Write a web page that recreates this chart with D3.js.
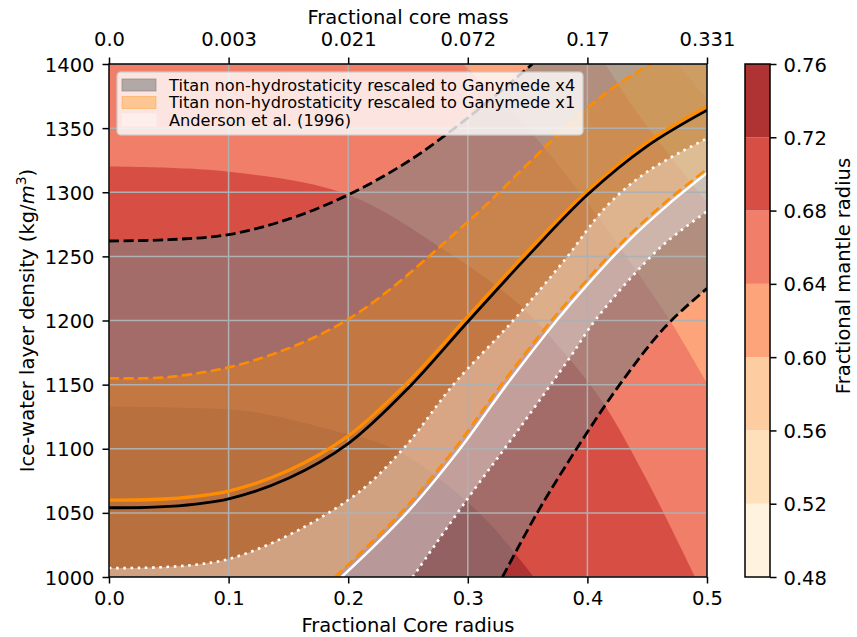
<!DOCTYPE html>
<html>
<head>
<meta charset="utf-8">
<script src="https://cdn.jsdelivr.net/npm/d3@7"></script>
<style>
body { margin: 0; background: #fff; }
svg { font-family: "DejaVu Sans", sans-serif; }
</style>
</head>
<body>
<main></main>
<script>
// axes
var xTicks = [0, 0.1, 0.2, 0.3, 0.4, 0.5];
var yTicks = [1000, 1050, 1100, 1150, 1200, 1250, 1300, 1350, 1400];
var massLabels = ['0.0', '0.003', '0.021', '0.072', '0.17', '0.331'];

// colour levels of the mantle radius field
var levels = [0.48, 0.52, 0.56, 0.60, 0.64, 0.68, 0.72, 0.76];
var levelColors = ['#fff2df', '#fee1bb', '#fdcca0', '#fda47a', '#f07e68', '#d74e45', '#b03333'];

// contour boundaries [core radius, density]
var mantle056 = [[0.475, 1400], [0.5, 1373]];
var mantle060 = [[0.415, 1400], [0.441, 1363], [0.5, 1292]];
var mantle064 = [[0.296, 1400], [0.35, 1350], [0.4, 1292], [0.44, 1240], [0.469, 1200], [0.5, 1151]];
var mantle068 = [[0, 1320], [0.1, 1316], [0.2, 1298], [0.277, 1257], [0.341, 1214], [0.385, 1170], [0.413, 1136], [0.45, 1075], [0.49, 1000]];
var mantle072 = [[0, 1133], [0.06, 1132], [0.118, 1129], [0.18, 1116], [0.238, 1100], [0.285, 1070], [0.32, 1040], [0.355, 1000]];

// Titan x4 (black)
var x4Mid = [[0, 1054], [0.05, 1055], [0.1, 1061], [0.15, 1077], [0.2, 1104], [0.25, 1147], [0.3, 1199], [0.35, 1250], [0.4, 1298], [0.45, 1336], [0.5, 1364]];
var x4Upper = [[0, 1262], [0.05, 1263], [0.1, 1267], [0.15, 1279], [0.2, 1298], [0.25, 1324], [0.3, 1358], [0.354, 1400]];
var x4Lower = [[0.329, 1000], [0.358, 1050], [0.391, 1100], [0.427, 1150], [0.465, 1195], [0.5, 1225]];

// Titan x1 (orange)
var x1Mid = [[0, 1060], [0.05, 1061], [0.1, 1067], [0.15, 1083], [0.2, 1110], [0.25, 1152], [0.3, 1203], [0.35, 1254], [0.4, 1301], [0.45, 1339], [0.5, 1367]];
var x1Upper = [[0, 1155], [0.05, 1156], [0.118, 1168], [0.2, 1201], [0.3, 1277], [0.35, 1322], [0.394, 1361], [0.422, 1382], [0.453, 1400]];
var x1Lower = [[0.189, 1000], [0.244, 1050], [0.289, 1100], [0.328, 1150], [0.37, 1200], [0.397, 1229], [0.43, 1262], [0.465, 1292], [0.5, 1318]];

// Anderson et al. (1996) (white)
var andMid = [[0.1945, 1000], [0.249, 1050], [0.2935, 1100], [0.3325, 1150], [0.3743, 1200], [0.4, 1228], [0.433, 1261], [0.467, 1290], [0.5, 1315]];
var andUpper = [[0, 1007], [0.1, 1014], [0.2, 1060], [0.246, 1100], [0.288, 1150], [0.338, 1200], [0.38, 1246], [0.416, 1289], [0.45, 1316], [0.5, 1342]];
var andLower = [[0.254, 1000], [0.299, 1060], [0.344, 1117], [0.386, 1172], [0.408, 1202], [0.461, 1257], [0.5, 1285]];

var legendNames = [
  'Titan non-hydrostaticity rescaled to Ganymede x4',
  'Titan non-hydrostaticity rescaled to Ganymede x1',
  'Anderson et al. (1996)'
];

var svg = d3.select("main").append("svg")
  .attr("width", 857)
  .attr("height", 637);

var x = d3.scaleLinear().domain([0, 0.5]).range([109, 707]);
var y = d3.scaleLinear().domain([1000, 1400]).range([577, 64]);
var cbar = d3.scaleLinear().domain([0.48, 0.76]).range([577, 64]);

var line = d3.line()
  .x(function(d) { return x(d[0]); })
  .y(function(d) { return y(d[1]); })
  .curve(d3.curveCatmullRom.alpha(0.5));

function pt(d) { return 'L' + x(d[0]) + ',' + y(d[1]); }

// region of the field above a level: the boundary closed round the lower left corner
function regionPath(pts) {
  var first = pts[0], last = pts[pts.length - 1];
  var p = line(pts);
  if (last[0] >= 0.5) p += pt([0.5, 1000]);
  p += pt([0, 1000]);
  if (first[0] > 0) p += pt([0, 1400]);
  return p + 'Z';
}

function bandPath(upper, lower) {
  var p = line(upper);
  if (upper[upper.length - 1][1] >= 1400) p += pt([0.5, 1400]);
  p += line(lower.slice().reverse()).replace(/^M/, 'L');
  if (lower[0][1] <= 1000) p += pt([0, 1000]);
  return p + 'Z';
}

svg.append("clipPath").attr("id", "plotclip")
  .append("rect")
  .attr("x", x(0)).attr("y", y(1400))
  .attr("width", x(0.5) - x(0)).attr("height", y(1000) - y(1400));

var plot = svg.append("g").attr("clip-path", "url(#plotclip)");

// filled contours
plot.append("rect")
  .attr("x", x(0)).attr("y", y(1400))
  .attr("width", x(0.5) - x(0)).attr("height", y(1000) - y(1400))
  .attr("fill", levelColors[1]);

var regions = [mantle056, mantle060, mantle064, mantle068, mantle072];
plot.selectAll("path.region")
  .data(regions)
  .enter().append("path")
  .attr("class", "region")
  .attr("d", regionPath)
  .attr("fill", function(d, i) { return levelColors[i + 2]; });

// uncertainty bands
plot.append("path").attr("d", bandPath(x4Upper, x4Lower))
  .attr("fill", "gray").attr("fill-opacity", 0.6);
plot.append("path").attr("d", bandPath(x1Upper, x1Lower))
  .attr("fill", "darkorange").attr("fill-opacity", 0.35);
plot.append("path").attr("d", bandPath(andUpper, andLower))
  .attr("fill", "white").attr("fill-opacity", 0.35);

// grid
var grid = plot.append("g").attr("stroke", "#b0b0b0").attr("stroke-width", 1.5);
grid.selectAll("line.gx").data(xTicks).enter().append("line")
  .attr("x1", function(d) { return x(d); }).attr("x2", function(d) { return x(d); })
  .attr("y1", y(1000)).attr("y2", y(1400));
grid.selectAll("line.gy").data(yTicks).enter().append("line")
  .attr("y1", function(d) { return y(d); }).attr("y2", function(d) { return y(d); })
  .attr("x1", x(0)).attr("x2", x(0.5));

// lines
var curves = [
  {pts: x1Mid, color: 'darkorange', width: 3.3, dash: null},
  {pts: x4Mid, color: 'black', width: 2.8, dash: null},
  {pts: x4Upper, color: 'black', width: 2.8, dash: '10.2,4.4'},
  {pts: x4Lower, color: 'black', width: 2.8, dash: '10.2,4.4'},
  {pts: x1Upper, color: 'darkorange', width: 2.6, dash: '10.2,4.4'},
  {pts: x1Lower, color: 'darkorange', width: 2.6, dash: '10.2,4.4'},
  {pts: andUpper, color: 'white', width: 2.6, dash: '2.6,4.6'},
  {pts: andLower, color: 'white', width: 2.6, dash: '2.6,4.6'},
  {pts: andMid, color: 'white', width: 2.5, dash: null}
];
plot.selectAll("path.curve")
  .data(curves)
  .enter().append("path")
  .attr("class", "curve")
  .attr("d", function(d) { return line(d.pts); })
  .attr("fill", "none")
  .attr("stroke", function(d) { return d.color; })
  .attr("stroke-width", function(d) { return d.width; })
  .attr("stroke-dasharray", function(d) { return d.dash; });

// axes
var fs = 19.5;
function styleAxis(g) {
  g.select(".domain").remove();
  g.attr("font-family", "DejaVu Sans").attr("font-size", fs);
  g.selectAll(".tick line").attr("stroke-width", 1.5);
  g.selectAll(".tick text").attr("fill", "#000");
}

svg.append("g")
  .attr("transform", "translate(0," + y(1000) + ")")
  .call(d3.axisBottom(x).tickValues(xTicks).tickFormat(d3.format('.1f')).tickSize(6.5).tickPadding(6.5))
  .call(styleAxis)
  .selectAll(".tick text").attr("dy", "0.78em");

svg.append("g")
  .attr("transform", "translate(0," + y(1400) + ")")
  .call(d3.axisTop(x).tickValues(xTicks).tickFormat(function(d, i) { return massLabels[i]; }).tickSize(6.5).tickPadding(11.5))
  .call(styleAxis);

svg.append("g")
  .attr("transform", "translate(" + x(0) + ",0)")
  .call(d3.axisLeft(y).tickValues(yTicks).tickFormat(d3.format('d')).tickSize(6.5).tickPadding(8))
  .call(styleAxis)
  .selectAll(".tick text").attr("dy", "0.36em");

svg.append("rect")
  .attr("x", x(0)).attr("y", y(1400))
  .attr("width", x(0.5) - x(0)).attr("height", y(1000) - y(1400))
  .attr("fill", "none").attr("stroke", "#000").attr("stroke-width", 1.5);

// axis titles
svg.append("text")
  .attr("x", (x(0) + x(0.5)) / 2).attr("y", 632)
  .attr("text-anchor", "middle").attr("font-size", fs)
  .text("Fractional Core radius");

svg.append("text")
  .attr("x", (x(0) + x(0.5)) / 2).attr("y", 24)
  .attr("text-anchor", "middle").attr("font-size", fs)
  .text("Fractional core mass");

var ylab = svg.append("text")
  .attr("transform", "translate(34," + (y(1000) + y(1400)) / 2 + ") rotate(-90)")
  .attr("text-anchor", "middle").attr("font-size", fs);
ylab.append("tspan").text("Ice-water layer density (kg/");
ylab.append("tspan").attr("font-style", "italic").text("m");
ylab.append("tspan").attr("font-size", 14).attr("dy", "-0.6em").text("3");
ylab.append("tspan").attr("dy", "0.42em").text(")");

// legend
var legend = svg.append("g");
legend.append("rect")
  .attr("x", 117).attr("y", 72).attr("width", 466).attr("height", 63).attr("rx", 4)
  .attr("fill", "white").attr("fill-opacity", 0.8)
  .attr("stroke", "#cccccc").attr("stroke-opacity", 0.8).attr("stroke-width", 1.5);

var legendFill = [['gray', 0.6], ['darkorange', 0.35], ['white', 0.35]];
var rows = legend.selectAll("g.row")
  .data(legendNames)
  .enter().append("g")
  .attr("class", "row")
  .attr("transform", function(d, i) { return "translate(0," + (85 + i * 17.5) + ")"; });
rows.append("rect")
  .attr("x", 122).attr("y", -6).attr("width", 34).attr("height", 12)
  .attr("fill", function(d, i) { return legendFill[i][0]; })
  .attr("fill-opacity", function(d, i) { return legendFill[i][1]; })
  .attr("stroke", function(d, i) { return legendFill[i][0]; })
  .attr("stroke-opacity", function(d, i) { return legendFill[i][1]; });
rows.append("text")
  .attr("x", 169).attr("dy", "0.36em")
  .attr("font-size", 16.2)
  .text(function(d) { return d; });

// colorbar
var cb = svg.append("g");
cb.selectAll("rect.band")
  .data(levelColors)
  .enter().append("rect")
  .attr("class", "band")
  .attr("x", 745).attr("width", 25)
  .attr("y", function(d, i) { return cbar(levels[i + 1]); })
  .attr("height", function(d, i) { return cbar(levels[i]) - cbar(levels[i + 1]); })
  .attr("fill", function(d) { return d; });
cb.append("rect")
  .attr("x", 745).attr("y", cbar(0.76)).attr("width", 25).attr("height", cbar(0.48) - cbar(0.76))
  .attr("fill", "none").attr("stroke", "#000").attr("stroke-width", 1.5);
svg.append("g")
  .attr("transform", "translate(770,0)")
  .call(d3.axisRight(cbar).tickValues(levels).tickFormat(d3.format('.2f')).tickSize(6.5).tickPadding(7))
  .call(styleAxis)
  .selectAll(".tick text").attr("dy", "0.36em");

svg.append("text")
  .attr("transform", "translate(850,276) rotate(-90)")
  .attr("text-anchor", "middle").attr("font-size", fs)
  .text("Fractional mantle radius");
</script>
</body>
</html>
